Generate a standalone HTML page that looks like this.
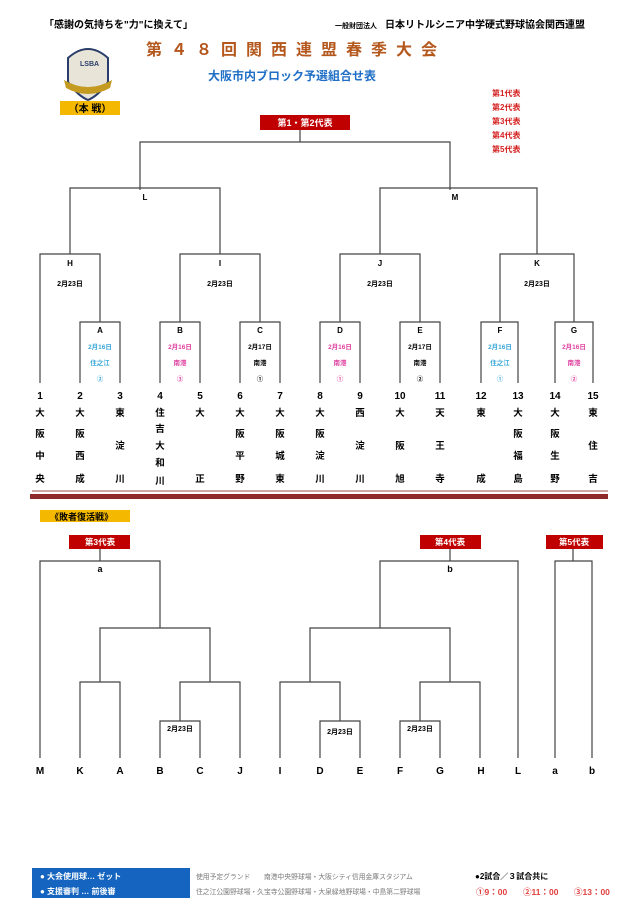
<!DOCTYPE html>
<html><head><meta charset="utf-8"><style>
html,body{margin:0;padding:0;background:#fff;}
svg{display:block;font-family:"Liberation Sans","Noto Sans CJK JP",sans-serif;}
</style></head><body>
<svg width="640" height="917" viewBox="0 0 640 917" xmlns="http://www.w3.org/2000/svg">
<g font-weight="bold">
<text x="44" y="28" font-size="10">「感謝の気持ちを"力"に換えて」</text>
<text x="335" y="28" font-size="7">一般財団法人</text>
<text x="385" y="28" font-size="10">日本リトルシニア中学硬式野球協会関西連盟</text>
<text x="146" y="55" font-size="16" fill="#b4581e" letter-spacing="9">第４８回関西連盟春季大会</text>
<text x="208" y="80" font-size="12" fill="#1f6fc6">大阪市内ブロック予選組合せ表</text>
</g>
<path d="M68 58 Q88 40 108 58 L108 82 Q98 96 88 100 Q78 96 68 82 Z" fill="#e8e4d8" stroke="#2a3c6a" stroke-width="2"/>
<path d="M64 80 Q88 94 112 80 L110 88 Q88 100 66 88 Z" fill="#c49a20"/>
<text x="80" y="66" font-size="7" fill="#2a3c6a" font-weight="bold">LSBA</text>
<rect x="60" y="101" width="60" height="14" fill="#f5b800"/>
<text x="90" y="112" font-size="10" text-anchor="middle" font-weight="bold">（本 戦）</text>
<g fill="#d42020" font-size="8" font-weight="bold">
<text x="492" y="96">第1代表</text><text x="492" y="110">第2代表</text><text x="492" y="124">第3代表</text><text x="492" y="138">第4代表</text><text x="492" y="152">第5代表</text>
</g>
<rect x="260" y="115" width="90" height="15" fill="#c00000"/>
<text x="305" y="126" font-size="9" fill="#fff" text-anchor="middle" font-weight="bold">第1・第2代表</text>
<g stroke="#444" stroke-width="1.2" fill="none">
<path d="M300 130V142M140 190V142H450V190"/>
<path d="M70 254V188H220V254M380 254V188H537V254"/>
<path d="M40 383V254H100V322M180 322V254H260V322M340 322V254H420V322M500 322V254H574V322"/>
<path d="M80 383V322H120V383M160 383V322H200V383M240 383V322H280V383M320 383V322H360V383M400 383V322H440V383M481 383V322H518V383M555 383V322H593V383"/>
</g>
<g font-size="8" text-anchor="middle" font-weight="bold">
<text x="145" y="200">L</text><text x="455" y="200">M</text>
<text x="70" y="266">H</text><text x="220" y="266">I</text><text x="380" y="266">J</text><text x="537" y="266">K</text>
<g font-size="7"><text x="70" y="286">2月23日</text><text x="220" y="286">2月23日</text><text x="380" y="286">2月23日</text><text x="537" y="286">2月23日</text></g>
<text x="100" y="333">A</text><text x="180" y="333">B</text><text x="260" y="333">C</text><text x="340" y="333">D</text><text x="420" y="333">E</text><text x="500" y="333">F</text><text x="574" y="333">G</text>
<g font-size="6.5">
<text x="100" y="349" fill="#3aa8d8">2月16日</text><text x="100" y="365" fill="#3aa8d8">住之江</text><text x="100" y="381" fill="#3aa8d8">②</text>
<text x="180" y="349" fill="#e040a0">2月16日</text><text x="180" y="365" fill="#e040a0">南港</text><text x="180" y="381" fill="#e040a0">③</text>
<text x="260" y="349">2月17日</text><text x="260" y="365">南港</text><text x="260" y="381">①</text>
<text x="340" y="349" fill="#e040a0">2月16日</text><text x="340" y="365" fill="#e040a0">南港</text><text x="340" y="381" fill="#e040a0">①</text>
<text x="420" y="349">2月17日</text><text x="420" y="365">南港</text><text x="420" y="381">②</text>
<text x="500" y="349" fill="#3aa8d8">2月16日</text><text x="500" y="365" fill="#3aa8d8">住之江</text><text x="500" y="381" fill="#3aa8d8">①</text>
<text x="574" y="349" fill="#e040a0">2月16日</text><text x="574" y="365" fill="#e040a0">南港</text><text x="574" y="381" fill="#e040a0">②</text>
</g>
<g font-size="10">
<text x="40" y="399">1</text><text x="80" y="399">2</text><text x="120" y="399">3</text><text x="160" y="399">4</text><text x="200" y="399">5</text><text x="240" y="399">6</text><text x="280" y="399">7</text><text x="320" y="399">8</text><text x="360" y="399">9</text><text x="400" y="399">10</text><text x="440" y="399">11</text><text x="481" y="399">12</text><text x="518" y="399">13</text><text x="555" y="399">14</text><text x="593" y="399">15</text>
</g>
<g font-size="9.5">
<text x="40" y="416">大</text><text x="40" y="437">阪</text><text x="40" y="459">中</text><text x="40" y="482">央</text>
<text x="80" y="416">大</text><text x="80" y="437">阪</text><text x="80" y="459">西</text><text x="80" y="482">成</text>
<text x="120" y="416">東</text><text x="120" y="449">淀</text><text x="120" y="482">川</text>
<text x="160" y="416">住</text><text x="160" y="432">吉</text><text x="160" y="449">大</text><text x="160" y="466">和</text><text x="160" y="484">川</text>
<text x="200" y="416">大</text><text x="200" y="482">正</text>
<text x="240" y="416">大</text><text x="240" y="437">阪</text><text x="240" y="459">平</text><text x="240" y="482">野</text>
<text x="280" y="416">大</text><text x="280" y="437">阪</text><text x="280" y="459">城</text><text x="280" y="482">東</text>
<text x="320" y="416">大</text><text x="320" y="437">阪</text><text x="320" y="459">淀</text><text x="320" y="482">川</text>
<text x="360" y="416">西</text><text x="360" y="449">淀</text><text x="360" y="482">川</text>
<text x="400" y="416">大</text><text x="400" y="449">阪</text><text x="400" y="482">旭</text>
<text x="440" y="416">天</text><text x="440" y="449">王</text><text x="440" y="482">寺</text>
<text x="481" y="416">東</text><text x="481" y="482">成</text>
<text x="518" y="416">大</text><text x="518" y="437">阪</text><text x="518" y="459">福</text><text x="518" y="482">島</text>
<text x="555" y="416">大</text><text x="555" y="437">阪</text><text x="555" y="459">生</text><text x="555" y="482">野</text>
<text x="593" y="416">東</text><text x="593" y="449">住</text><text x="593" y="482">吉</text>
</g>
</g>
<line x1="32" y1="491" x2="608" y2="491" stroke="#b07070" stroke-width="1.2"/>
<rect x="30" y="494" width="578" height="5" fill="#8e2a2a"/>
<rect x="40" y="510" width="90" height="12" fill="#f5b800"/>
<text x="50" y="520" font-size="9" font-weight="bold">《敗者復活戦》</text>
<g fill="#c00000"><rect x="69" y="535" width="61" height="14"/><rect x="420" y="535" width="61" height="14"/><rect x="546" y="535" width="57" height="14"/></g>
<g fill="#fff" font-size="8.5" font-weight="bold" text-anchor="middle"><text x="100" y="545">第3代表</text><text x="450" y="545">第4代表</text><text x="574" y="545">第5代表</text></g>
<g stroke="#444" stroke-width="1.2" fill="none">
<path d="M100 549V561M450 549V561M573 549V561"/>
<path d="M40 758V561H160V628M380 628V561H518V758M555 758V561H592V758"/>
<path d="M100 682V628H210V682M310 682V628H450V682"/>
<path d="M80 758V682H120V758M180 721V682H240V758M280 758V682H340V721M420 721V682H480V758"/>
<path d="M160 758V721H200V758M320 758V721H360V758M400 758V721H440V758"/>
</g>
<g font-size="9" font-weight="bold" text-anchor="middle">
<text x="100" y="572">a</text><text x="450" y="572">b</text>
<g font-size="7"><text x="180" y="731">2月23日</text><text x="340" y="734">2月23日</text><text x="420" y="731">2月23日</text></g>
<g font-size="10">
<text x="40" y="774">M</text><text x="80" y="774">K</text><text x="120" y="774">A</text><text x="160" y="774">B</text><text x="200" y="774">C</text><text x="240" y="774">J</text><text x="280" y="774">I</text><text x="320" y="774">D</text><text x="360" y="774">E</text><text x="400" y="774">F</text><text x="440" y="774">G</text><text x="481" y="774">H</text><text x="518" y="774">L</text><text x="555" y="774">a</text><text x="592" y="774">b</text>
</g>
</g>
<rect x="32" y="868" width="158" height="30" fill="#1565c0"/>
<g fill="#fff" font-size="8" font-weight="bold"><text x="40" y="879">●  大会使用球… ゼット</text><text x="40" y="894">●  支援審判  … 前後審</text></g>
<g font-size="6.8" fill="#777"><text x="196" y="879">使用予定グランド　　南港中央野球場・大阪シティ信用金庫スタジアム</text><text x="196" y="894">住之江公園野球場・久宝寺公園野球場・大泉緑地野球場・中島第二野球場</text></g>
<text x="475" y="879" font-size="8" font-weight="bold">●2試合／３試合共に</text>
<g font-size="8.5" font-weight="bold" fill="#e04040"><text x="476" y="895">①9：00</text><text x="523" y="895">②11：00</text><text x="574" y="895">③13：00</text></g>
</svg>
</body></html>
